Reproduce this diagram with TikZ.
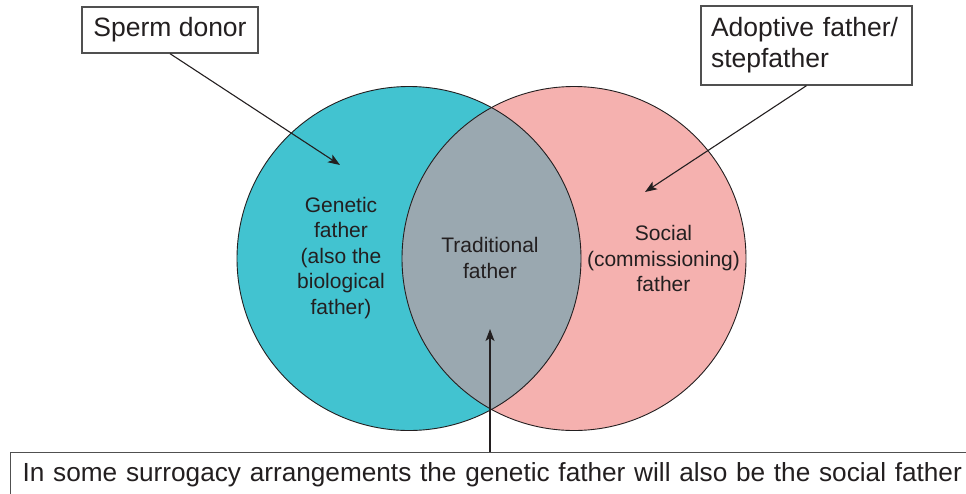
\documentclass[tikz,border=0pt]{standalone}
\usepackage{fontspec}
\setmainfont{Liberation Sans}
\usetikzlibrary{arrows.meta}
\definecolor{gencol}{RGB}{66,195,208}
\definecolor{soccol}{RGB}{245,177,175}
\definecolor{tradcol}{RGB}{154,168,176}
\definecolor{inkcol}{RGB}{35,31,32}
\definecolor{boxline}{RGB}{80,80,80}
\tikzset{
  labelbox/.style={draw=boxline, line width=1.3pt, fill=white, text=inkcol,
    font=\fontsize{26.5}{31}\selectfont},
  circtext/.style={text=inkcol, align=center, font=\fontsize{21}{25.5}\selectfont},
  arr/.style={draw=inkcol, line width=1.1pt, -{Stealth[length=12pt,width=9pt,inset=3pt]}},
  ring/.style={circle, minimum size=344pt, inner sep=0pt, draw=inkcol, line width=0.9pt}
}
\begin{document}
\begin{tikzpicture}[x=1pt,y=-1pt]
\useasboundingbox (0,0) rectangle (966,493);
% fills
\fill[gencol] (409,258.5) circle (172);
\fill[soccol] (574,258.5) circle (172);
\begin{scope}
  \clip (409,258.5) circle (172);
  \fill[tradcol] (574,258.5) circle (172);
\end{scope}
% outlines
\node[ring] (gen) at (409,258.5) {};
\node[ring] (soc) at (574,258.5) {};
% circle texts
\node[circtext] (gentext) at (341,258) {Genetic\\father\\(also the\\biological\\father)};
\node[circtext] (tradtext) at (490,258) {Traditional\\father};
\node[circtext] (soctext) at (663.5,258.5) {Social\\(commissioning)\\father};
% boxes
\node[labelbox, minimum width=176pt, minimum height=46pt, inner sep=0pt] (donor) at (170,30) {Sperm donor};
\node[labelbox, minimum width=211pt, minimum height=79pt, inner xsep=10pt, inner ysep=0pt, align=left, text width=191pt] (adopt) at (806.5,45.5) {Adoptive father/\\stepfather};
\node[labelbox, font=\fontsize{26.2}{30}\selectfont, anchor=north west, inner xsep=12pt, inner ysep=0pt, text width=960pt, align=left, text height=29pt, text depth=40pt] (bottombox) at (10,452) {In some surrogacy arrangements the genetic father will also be the social father};
% arrows
\coordinate (donortip) at (340,165);
\coordinate (adopttip) at (645,192);
\coordinate (tradtip) at (490,329);
\draw[arr] (donor.south) -- (donortip);
\draw[arr] (adopt.south) -- (adopttip);
\draw[arr] (bottombox.north -| tradtip) -- (tradtip);
\end{tikzpicture}
\end{document}
